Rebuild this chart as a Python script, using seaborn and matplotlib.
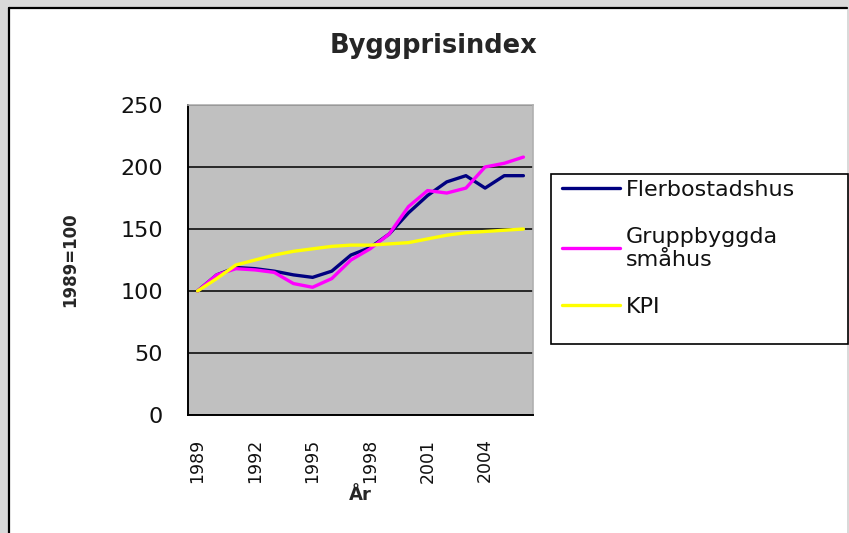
import matplotlib
matplotlib.use("Agg")
import matplotlib.pyplot as plt
from matplotlib.patches import Rectangle
from matplotlib.lines import Line2D
import pandas as pd
import seaborn as sns

# data (index, 1989 = 100)
years = list(range(1989, 2007))
flerbostadshus = [100, 113, 119, 118, 116, 113, 111, 116, 129, 135, 146, 163, 177, 188, 193, 183, 193, 193]
gruppbyggda = [100, 113, 118, 117, 115, 106, 103, 110, 125, 134, 146, 168, 181, 179, 183, 200, 203, 208]
kpi = [100, 110, 121, 125, 129, 132, 134, 136, 137, 137, 138, 139, 142, 145, 147, 148, 149, 150]

series_names = ["Flerbostadshus", "Gruppbyggda\nsmåhus", "KPI"]
series_colors = ["#000080", "#ff00ff", "#ffff00"]
year_labels = [1989, 1992, 1995, 1998, 2001, 2004]
y_ticks = [0, 50, 100, 150, 200, 250]

df = pd.DataFrame({
    "År": years * 3,
    "Index": flerbostadshus + gruppbyggda + kpi,
    "Serie": [series_names[0]] * len(years) + [series_names[1]] * len(years) + [series_names[2]] * len(years),
})

sns.set_style("white")
plt.rcParams["font.family"] = ["DejaVu Sans"]

W, H = 849, 533
fig = plt.figure(figsize=(W / 100, H / 100), dpi=100)
fig.patch.set_facecolor("#d9d9d9")

# white chart area with the black frame on left and top
fig.add_artist(Rectangle((9 / W, 0), (847 - 9) / W, 1 - 7.5 / H, transform=fig.transFigure,
                         facecolor="white", edgecolor="none", zorder=-5))
fig.add_artist(Line2D([8.5 / W, 8.5 / W], [0, 1 - 7.5 / H], color="black", lw=1.6, transform=fig.transFigure))
fig.add_artist(Line2D([8.5 / W, 847 / W], [1 - 7.5 / H, 1 - 7.5 / H], color="black", lw=1.6, transform=fig.transFigure))

ax = fig.add_axes([188 / W, 1 - 415 / H, 345 / W, 310 / H])
ax.set_facecolor("#c0c0c0")

sns.lineplot(data=df, x="År", y="Index", hue="Serie", hue_order=series_names,
             palette=series_colors, linewidth=2.4, legend=False, ax=ax, sort=False)
for ln in ax.lines:
    ln.set_solid_joinstyle("round")
    ln.set_solid_capstyle("round")

ax.set_xlim(years[0] - 0.5, years[-1] + 0.5)
ax.set_ylim(y_ticks[0], y_ticks[-1])
ax.set_yticks(y_ticks)
ax.set_xticks(year_labels)
ax.set_xticklabels([str(y) for y in year_labels], rotation=90)
ax.set_xticks([y - 0.5 for y in years] + [years[-1] + 0.5], minor=True)

ax.tick_params(axis="x", which="major", length=0, pad=17, labelsize=12.5)
ax.tick_params(axis="x", which="minor", length=6, width=1.2, color="black", direction="out")
ax.tick_params(axis="y", length=8, width=1.2, color="black", direction="out", pad=10, labelsize=16)
ax.tick_params(axis="both", labelcolor="#111111")

ax.yaxis.grid(True, color="black", lw=1.1)
ax.set_axisbelow(True)

for side in ["left", "bottom"]:
    ax.spines[side].set_color("black")
    ax.spines[side].set_linewidth(1.4)
for side in ["top", "right"]:
    ax.spines[side].set_color("#b0b0b0")
    ax.spines[side].set_linewidth(1.2)

ax.set_xlabel("År", fontsize=13, fontweight="bold")
ax.xaxis.set_label_coords(0.5, (415 - 486) / 310)
ax.set_ylabel("1989=100", fontsize=12, fontweight="bold")
ax.yaxis.set_label_coords((79 - 188) / 345, 0.5)

fig.suptitle("Byggprisindex", x=434 / W, y=1 - 33 / H, fontsize=18.5, fontweight="bold", va="top")

# legend box outside the plot, on the right
fig.add_artist(Rectangle((551 / W, 1 - 344 / H), (848 - 551) / W, (344 - 174) / H,
                         transform=fig.transFigure, facecolor="white", edgecolor="black", lw=1.2, zorder=-1))
leg = ax.legend(ax.lines, series_names, loc="upper left",
                bbox_to_anchor=(562 / W, 1 - 180 / H), bbox_transform=fig.transFigure,
                frameon=False, borderaxespad=0, borderpad=0, handlelength=2.6,
                handletextpad=0.27, labelspacing=1.2, fontsize=16)
for txt in leg.get_texts():
    txt.set_color("#111111")

fig.savefig("out.png", dpi=100, facecolor=fig.get_facecolor())
